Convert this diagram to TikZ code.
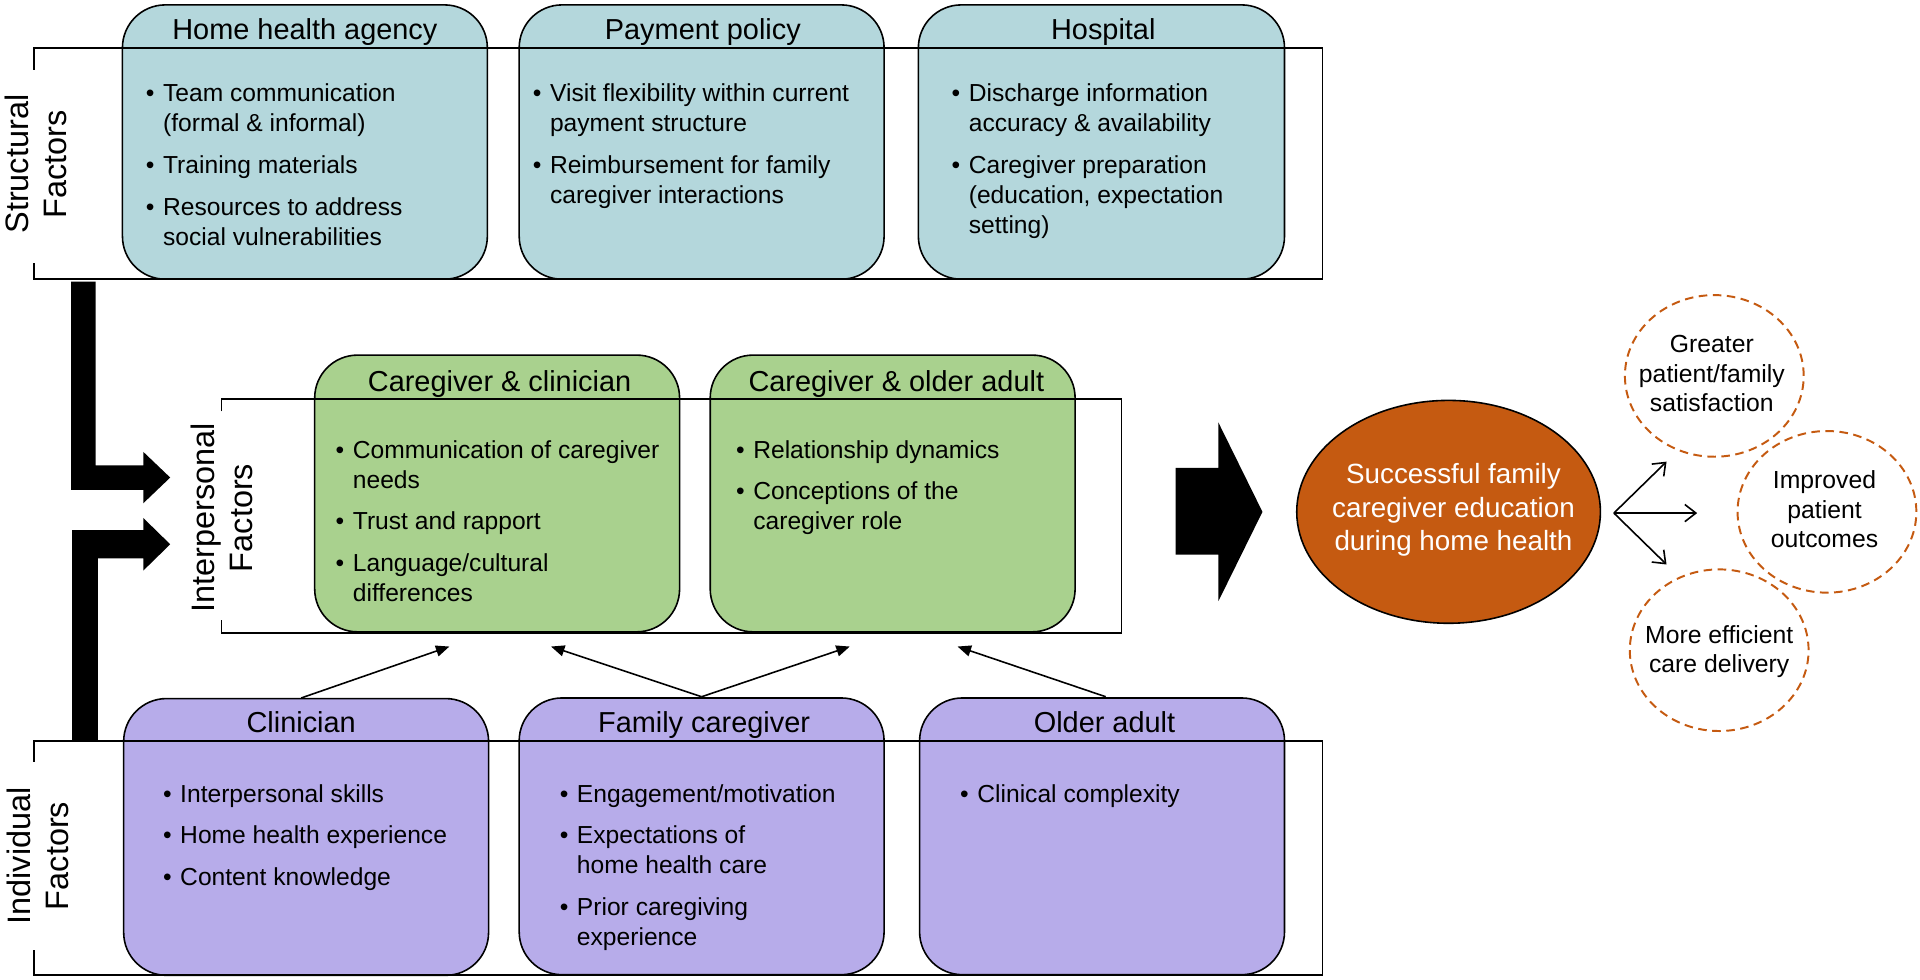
\documentclass[tikz,border=0pt]{standalone}
\usepackage{fontspec}
\setmainfont{Liberation Sans}
\usetikzlibrary{arrows.meta,shapes.geometric}
\definecolor{cTeal}{HTML}{B4D7DC}
\definecolor{cGreen}{HTML}{A9D18E}
\definecolor{cPurple}{HTML}{B7ACEA}
\definecolor{cOrange}{HTML}{C55A11}
\newcommand\bu{\llap{\textbullet\hspace{7pt}}}
\begin{document}
\begin{tikzpicture}[x=1pt,y=-1pt,
  fbox/.style={draw=black, line width=1.3pt, rounded corners=35pt, minimum width=298pt, minimum height=224pt, inner sep=0pt},
  tbox/.style={fbox, fill=cTeal},
  gbox/.style={fbox, fill=cGreen, minimum height=226pt},
  pbox/.style={fbox, fill=cPurple, minimum height=226pt},
  frame/.style={draw=black, line width=1.3pt},
  bul/.style={anchor=north west, inner sep=0pt, align=left, font=\fontsize{20.1}{24.5}\selectfont},
  ttl/.style={anchor=base, inner sep=0pt, font=\fontsize{23.6}{28}\selectfont},
  lab/.style={rotate=90, align=center, inner sep=0pt, font=\fontsize{26.5}{31}\selectfont},
  thinarr/.style={line width=1.3pt, -{Triangle[length=11pt,width=9pt]}},
  forkarr/.style={line width=1.3pt, -{Straight Barb[length=9pt,width=14pt]}},
  outc/.style={ellipse, draw=cOrange, line width=1.6pt, dash pattern=on 7pt off 4.5pt, minimum width=146pt, minimum height=132pt, inner sep=0pt},
  outt/.style={anchor=north, align=center, inner sep=0pt, font=\fontsize{20.2}{24}\selectfont},
]
\useasboundingbox (0,0) rectangle (1568,800);

% ---------- boxes ----------
\node[tbox] (hha)  at (249,116) {};
\node[tbox] (pay)  at (573,116) {};
\node[tbox, minimum width=299pt] (hosp) at (899.5,116) {};
\node[gbox] (cc)   at (406,403) {};
\node[gbox] (coa)  at (729,403) {};
\node[pbox] (clin) at (250,683.5) {};
\node[pbox] (fam)  at (573,683) {};
\node[pbox] (old)  at (900,683) {};

% ---------- frames ----------
\draw[frame] (28,57) -- (28,39) -- (1080,39) -- (1080,228) -- (28,228) -- (28,215);
\draw[frame] (181,336) -- (181,326) -- (916,326) -- (916,517) -- (181,517) -- (181,506);
\draw[frame] (28,622) -- (28,605) -- (1080,605) -- (1080,796) -- (28,796) -- (28,776);

\node[lab] (lstr) at (29.5,134) {Structural\\Factors};
\node[lab] (lint) at (181.5,423) {Interpersonal\\Factors};
\node[lab] (lind) at (31,699) {Individual\\Factors};

% ---------- titles ----------
\node[ttl] (thha)  at (249,32) {Home health agency};
\node[ttl] (tpay)  at (574,32) {Payment policy};
\node[ttl] (thosp) at (901,32) {Hospital};
\node[ttl] (tcc)   at (408,319.5) {Caregiver \& clinician};
\node[ttl] (tcoa)  at (732,319.5) {Caregiver \& older adult};
\node[ttl] (tclin) at (246,598.5) {Clinician};
\node[ttl] (tfam)  at (575,598.5) {Family caregiver};
\node[ttl] (told)  at (902,598.5) {Older adult};

% ---------- bullet texts ----------
\node[bul] (bhha) at (133,65.8) {\strut\bu Team communication\\(formal \& informal)\\[9.5pt]\bu Training materials\\[9.5pt]\bu Resources to address\\social vulnerabilities};
\node[bul] (bpay) at (449,65.8) {\strut\bu Visit flexibility within current\\payment structure\\[9.5pt]\bu Reimbursement for family\\caregiver interactions};
\node[bul] (bhosp) at (791,65.8) {\strut\bu Discharge information\\accuracy \& availability\\[9.5pt]\bu Caregiver preparation\\(education, expectation\\setting)};
\node[bul] (bcc) at (288,356.8) {\strut\bu Communication of caregiver\\needs\\[9.5pt]\bu Trust and rapport\\[9.5pt]\bu Language/cultural\\differences};
\node[bul] (bcoa) at (615,356.8) {\strut\bu Relationship dynamics\\[9.5pt]\bu Conceptions of the\\caregiver role};
\node[bul] (bclin) at (147,637.8) {\strut\bu Interpersonal skills\\[9.5pt]\bu Home health experience\\[9.5pt]\bu Content knowledge};
\node[bul] (bfam) at (471,637.8) {\strut\bu Engagement/motivation\\[9.5pt]\bu Expectations of\\home health care\\[9.5pt]\bu Prior caregiving\\experience};
\node[bul] (bold) at (798,637.8) {\strut\bu Clinical complexity};

% ---------- thick black arrows ----------
\fill[black] (58,230) -- (78,230) -- (78,380) -- (117,380) -- (117,369) -- (139,390) -- (117,411) -- (117,400) -- (58,400) -- cycle;
\fill[black] (59,605) -- (80,605) -- (80,456) -- (117,456) -- (117,466) -- (139,444.5) -- (117,423) -- (117,433) -- (59,433) -- cycle;
\fill[black] (960,382) -- (995,382) -- (995,345) -- (1031,418) -- (995,491) -- (995,453) -- (960,453) -- cycle;

% ---------- thin arrows from individual to interpersonal ----------
\coordinate (e1) at (367,528);
\coordinate (e2) at (450,528);
\coordinate (e3) at (694,528);
\coordinate (e4) at (782,528);
\coordinate (s1) at (246,570);
\coordinate (s2) at (573,569);
\coordinate (s3) at (903,569);
\draw[thinarr] (s1) -- (e1);
\draw[thinarr] (s2) -- (e2);
\draw[thinarr] (s2) -- (e3);
\draw[thinarr] (s3) -- (e4);

% ---------- outcome ----------
\node[ellipse, draw=black, line width=1.3pt, fill=cOrange, minimum width=248pt, minimum height=182pt, inner sep=0pt] (goal) at (1183,418) {};
\node[anchor=north, align=center, inner sep=0pt, text=white, font=\fontsize{22.7}{27.5}\selectfont] (goalt) at (1187,375.5) {\strut Successful family\\caregiver education\\during home health};

\node[outc] (o1) at (1400,307) {};
\node[outc] (o2) at (1492,418) {};
\node[outc] (o3) at (1404,531) {};
\node[outt] (o1t) at (1398,271.2) {\strut Greater\\patient/family\\satisfaction};
\node[outt] (o2t) at (1490,382.2) {\strut Improved\\patient\\outcomes};
\node[outt] (o3t) at (1404,508.5) {\strut More efficient\\care delivery};

\coordinate (fork) at (1318,419);
\coordinate (f1) at (1361,377);
\coordinate (f2) at (1386,419);
\coordinate (f3) at (1361,461);
\draw[forkarr] (fork) -- (f1);
\draw[forkarr] (fork) -- (f2);
\draw[forkarr] (fork) -- (f3);
\end{tikzpicture}
\end{document}
